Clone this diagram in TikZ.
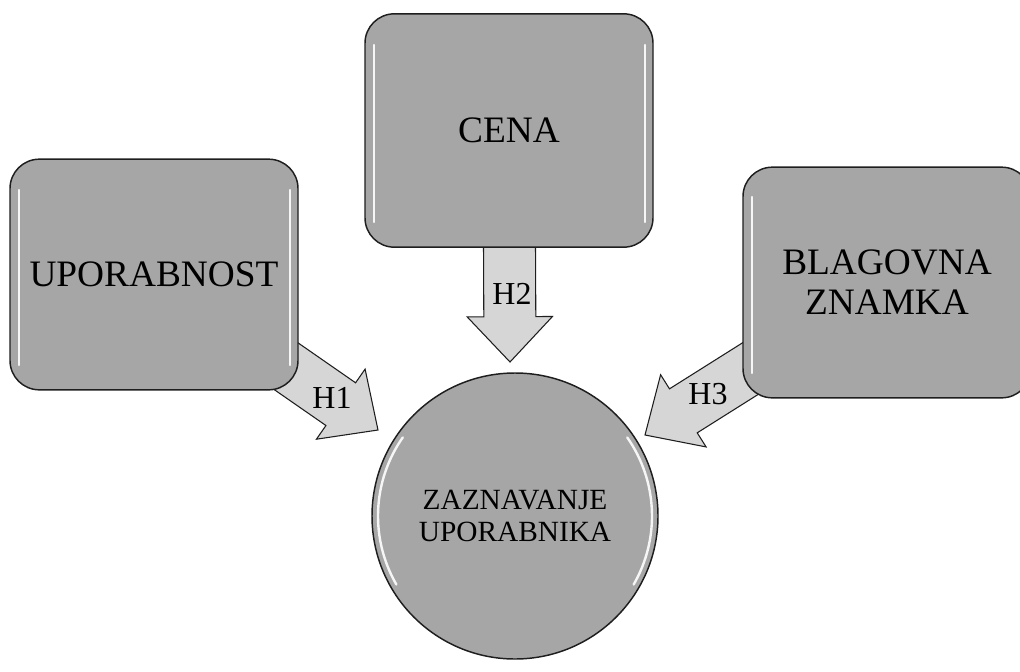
\documentclass[tikz,border=0pt]{standalone}
\usepackage{fontspec}
\setmainfont{Liberation Serif}
\usetikzlibrary{calc}
\pgfdeclarelayer{bg}
\pgfsetlayers{bg,main}
\definecolor{boxgray}{HTML}{A6A6A6}
\definecolor{arrowgray}{HTML}{D6D6D6}
\definecolor{edgegray}{HTML}{1E1E1E}
\tikzset{
  boxnode/.style={draw=edgegray, line width=1.1pt, fill=boxgray, rounded corners=22pt,
    minimum width=216pt, minimum height=173pt, align=center,
    font=\fontsize{28}{30}\selectfont, inner sep=0pt},
  circnode/.style={circle, draw=edgegray, line width=1.1pt, fill=boxgray,
    minimum size=214.5pt, align=center, font=\fontsize{22}{24}\selectfont, inner sep=0pt},
  fatarrowstyle/.style={draw=edgegray, line width=0.8pt, fill=arrowgray, line join=miter},
  hlabel/.style={font=\fontsize{24}{26}\selectfont, inner sep=0pt},
  gloss/.style={draw=white, line width=1.8pt, line cap=round, opacity=0.9},
}
\newcommand\fatarrow[2]{%
  \coordinate (hb) at ($(#2)!34pt!(#1)$);
  \draw[fatarrowstyle]
    ($(#1)!19.5pt!90:(#2)$) -- ($(hb)!19.5pt!90:(#2)$) -- ($(hb)!32pt!90:(#2)$)
    -- (#2) -- ($(hb)!32pt!-90:(#2)$) -- ($(hb)!19.5pt!-90:(#2)$)
    -- ($(#1)!19.5pt!-90:(#2)$) -- cycle;}
\begin{document}
\begin{tikzpicture}[x=0.75pt, y=-0.75pt]
\useasboundingbox (0,0) rectangle (1020,671);
\clip (0,0) rectangle (1020,671);
% nodes
\node[boxnode] (b1) at (154,274.5) {UPORABNOST};
\node[boxnode, minimum height=175pt] (b2) at (509,130.5) {CENA};
\node[boxnode] (b3) at (887,282.5) {BLAGOVNA\\ZNAMKA};
\node[circnode] (c) at (515,516) {ZAZNAVANJE\\UPORABNIKA};
% gloss highlights
\draw[gloss] (19,190) -- (19,365);
\draw[gloss] (290,190) -- (290,365);
\draw[gloss] (374,45) -- (374,222);
\draw[gloss] (645,45) -- (645,222);
\draw[gloss] (752,197) -- (752,373);
\draw[gloss] (c.center) ++(150:137) arc[start angle=150, end angle=215, radius=137];
\draw[gloss] (c.center) ++(-35:137) arc[start angle=-35, end angle=30, radius=137];
% arrow tips
\coordinate (t1) at (378,430);
\coordinate (t2) at (510,362);
\coordinate (t3) at (645,435);
\begin{pgfonlayer}{bg}
\fatarrow{b1.center}{t1}
\fatarrow{b2.center}{t2}
\fatarrow{b3.center}{t3}
\end{pgfonlayer}
% labels
\node[hlabel] (l1) at (332,398) {H1};
\node[hlabel] (l2) at (512,294) {H2};
\node[hlabel] (l3) at (708,394) {H3};
\end{tikzpicture}
\end{document}
